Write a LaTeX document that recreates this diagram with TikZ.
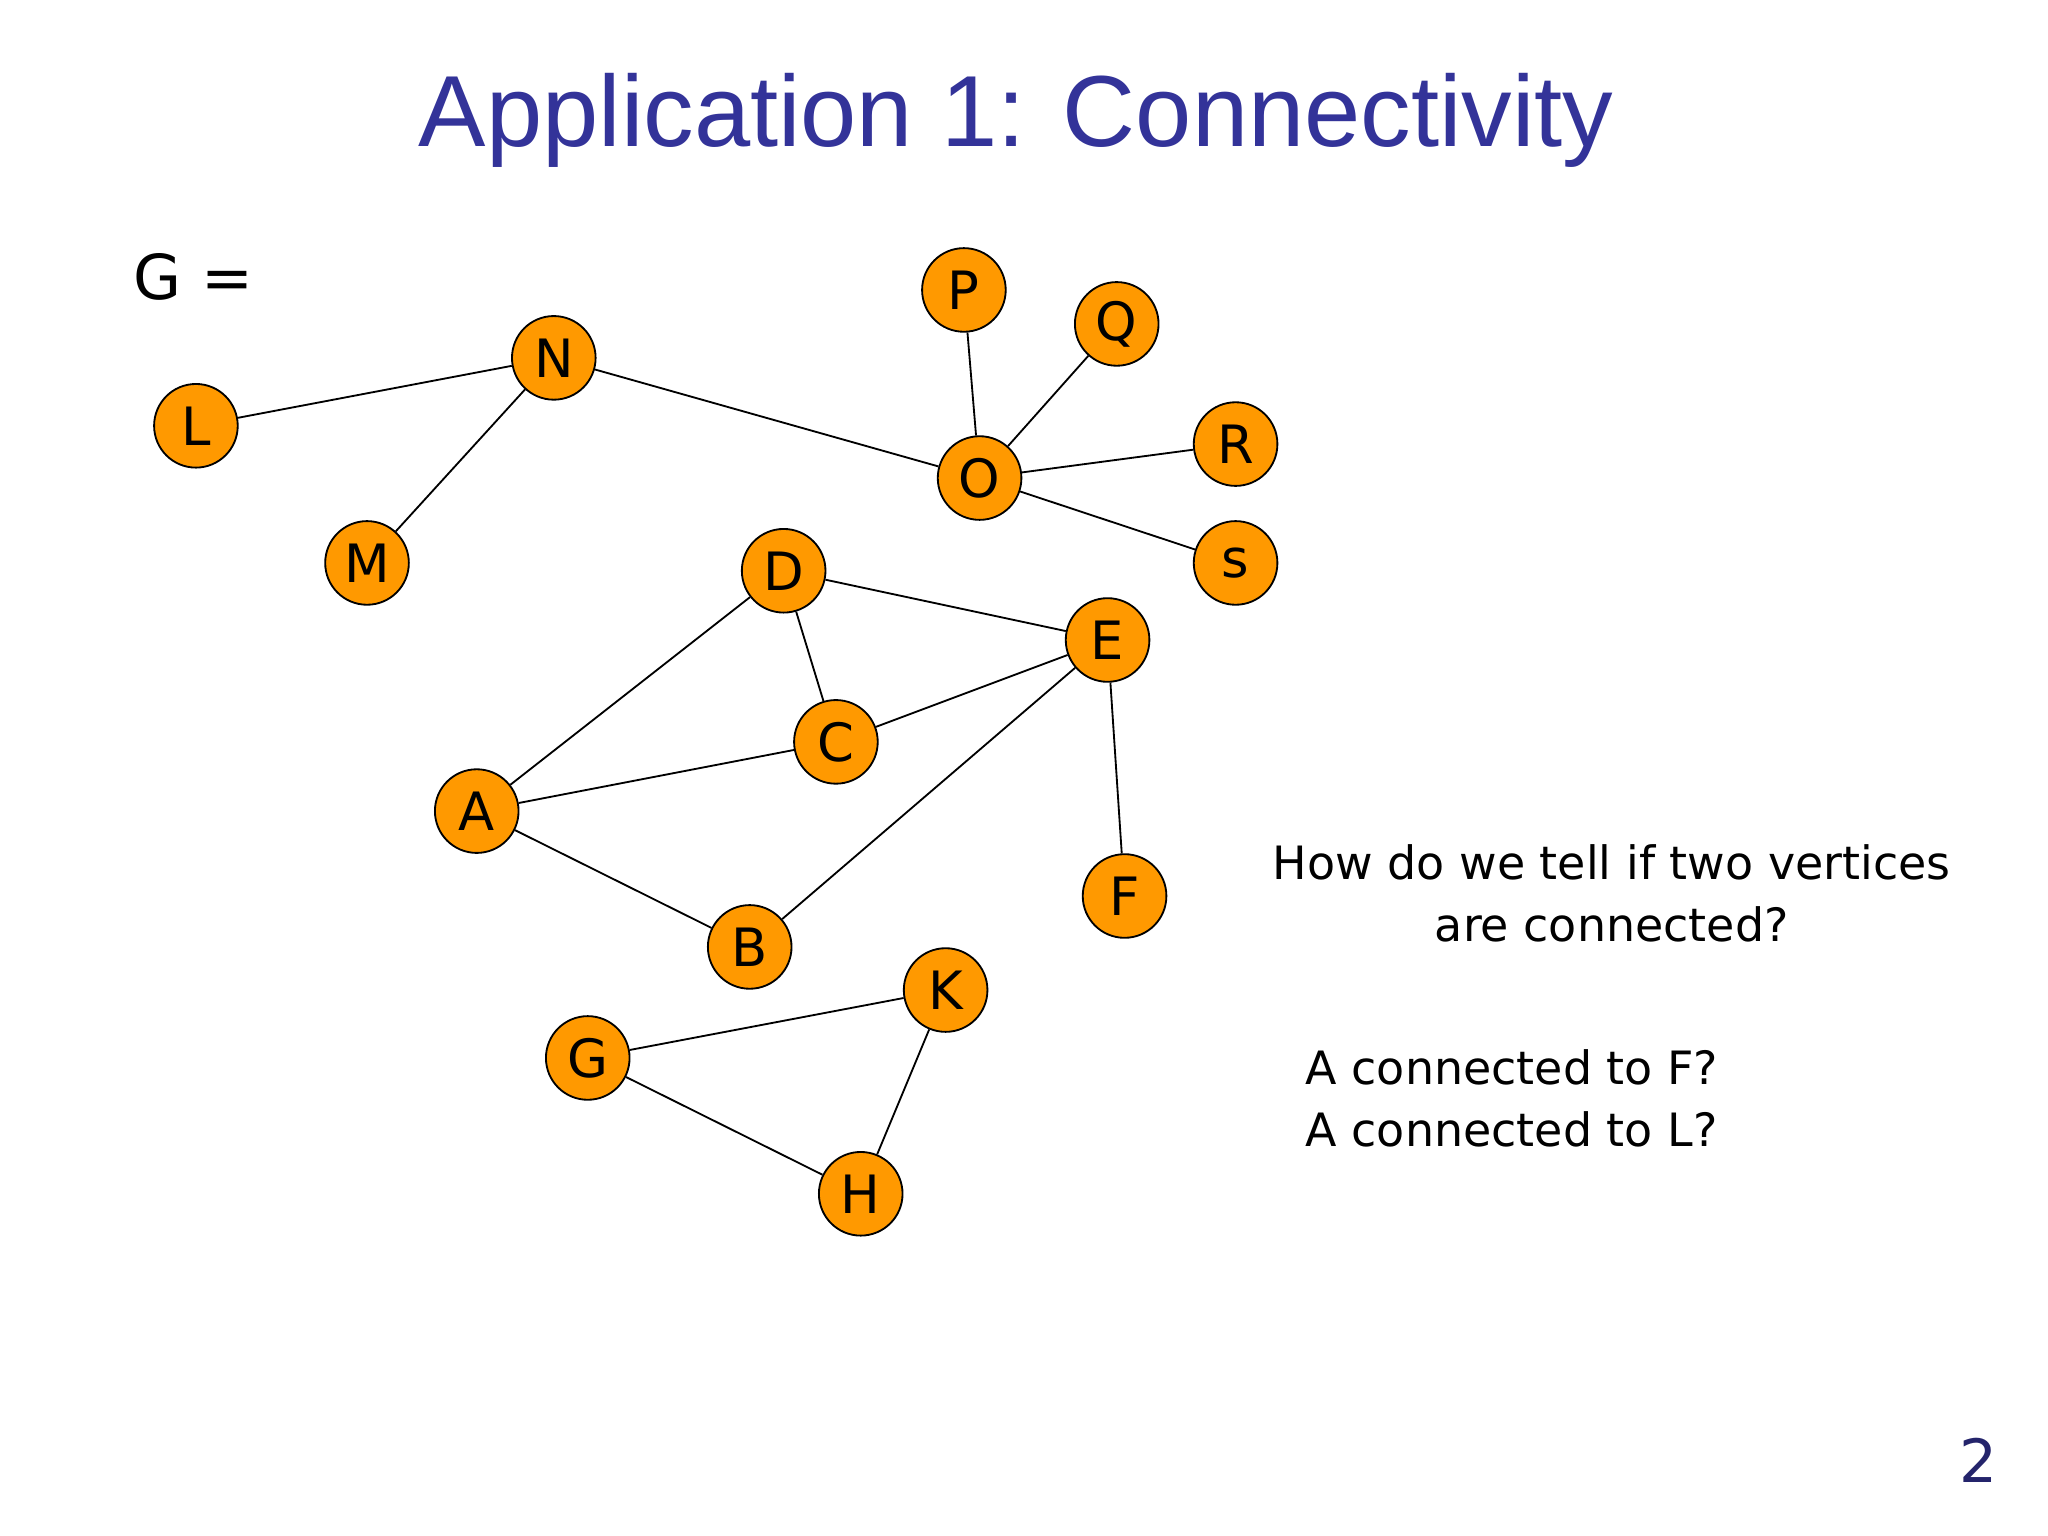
\documentclass[tikz,border=0pt]{standalone}
\usepackage{fontspec}
\setmainfont{DejaVu Sans}
\newfontfamily\titlefont{Liberation Sans}
\definecolor{titleblue}{RGB}{51,51,153}
\definecolor{nodeorange}{RGB}{255,153,0}
\begin{document}
\begin{tikzpicture}[x=0.01cm,y=-0.01cm,
  v/.style={circle,draw=black,fill=nodeorange,minimum size=0.64cm,inner sep=0pt,font=\fontsize{11.5}{12}\selectfont},
  e/.style={draw=black,line width=0.4pt},
  txt/.style={font=\fontsize{10}{13.5}\selectfont,inner sep=0pt}]
\useasboundingbox (0,0) rectangle (1568,1176);
\node[font=\titlefont\fontsize{22}{22}\selectfont,text=titleblue] (title) at (778,92) {Application 1: Connectivity};
\node[txt,font=\fontsize{13.5}{14}\selectfont] (g) at (148,212) {G =};
\node[v] (P) at (738,222) {P};
\node[v] (Q) at (855,248) {Q};
\node[v] (N) at (424,274) {N};
\node[v] (L) at (150,326) {L};
\node[v] (O) at (750,366) {O};
\node[v] (R) at (946,340) {R};
\node[v] (M) at (281,431) {M};
\node[v] (s) at (946,431) {s};
\node[v] (D) at (600,437) {D};
\node[v] (E) at (848,490) {E};
\node[v] (C) at (640,568) {C};
\node[v] (A) at (365,621) {A};
\node[v] (F) at (861,686) {F};
\node[v] (B) at (574,725) {B};
\node[v] (K) at (724,758) {K};
\node[v] (G) at (450,810) {G};
\node[v] (H) at (659,914) {H};
\foreach \a/\b in {L/N,N/M,N/O,O/P,O/Q,O/R,O/s,D/E,D/C,D/A,A/C,C/E,E/B,E/F,A/B,G/K,K/H,G/H}
  \draw[e] (\a) -- (\b);
\node[txt,align=center] (q1) at (1234,684) {How do we tell if two vertices\\are connected?};
\node[txt,align=left,anchor=west] (q2) at (999,841) {A connected to F?\\A connected to L?};
\node[font=\fontsize{13}{13}\selectfont,text=titleblue!70!black] (pg) at (1515,1118) {2};
\end{tikzpicture}
\end{document}
